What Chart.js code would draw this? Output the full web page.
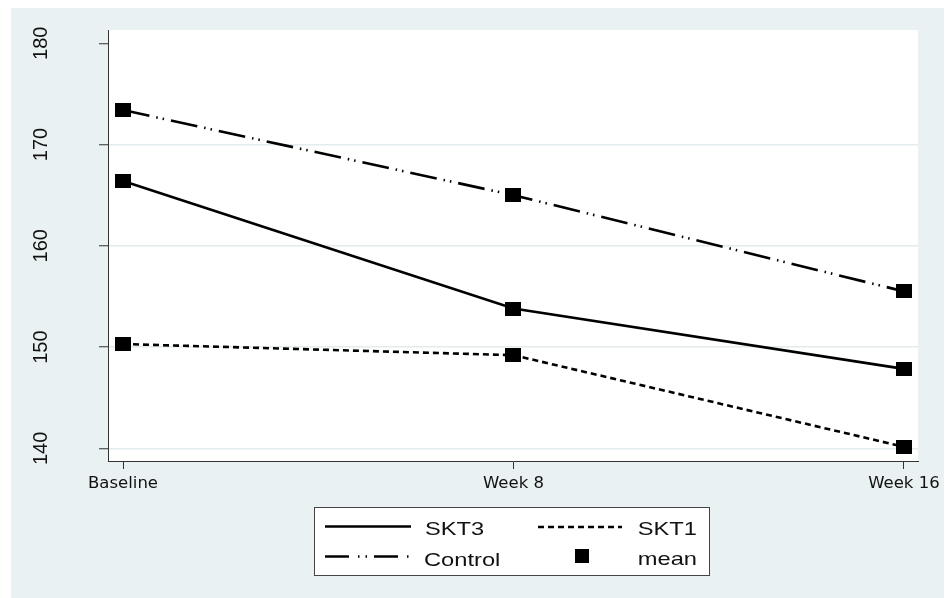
<!DOCTYPE html>
<html><head><meta charset="utf-8">
<script src="https://cdn.jsdelivr.net/npm/chart.js@4.4.1/dist/chart.umd.min.js"></script>
<style>html,body{margin:0;padding:0;background:#fff;}canvas{display:block}</style>
</head><body>
<canvas id="c" width="946" height="598"></canvas>
<script>
// ---- data ----
const categories = ['Baseline', 'Week 8', 'Week 16'];
const skt3 = [166.4, 153.8, 147.85];
const skt1 = [150.3, 149.2, 140.15];
const control = [173.4, 165.0, 155.5];
const yTicks = [140, 150, 160, 170, 180];
const seriesNames = ['SKT3', 'SKT1', 'Control'];
const markerName = 'mean';

// ---- styles ----
const marker = document.createElement('canvas');
marker.width = 16; marker.height = 14;
(function(){ const m = marker.getContext('2d'); m.fillStyle = '#000'; m.fillRect(0,0,16,14); })();

const dashes = { SKT3: [], SKT1: [6, 4], Control: [27, 7, 1.5, 5, 1.5, 7] };
const seriesValues = [skt3, skt1, control];

const datasets = seriesNames.map((name, k) => ({
  label: name,
  data: seriesValues[k].map((v, i) => ({ x: i, y: v })),
  borderColor: '#000',
  backgroundColor: '#000',
  borderWidth: 2.6,
  borderDash: dashes[name],
  tension: 0,
  fill: false,
  pointStyle: marker,
  pointRadius: 8,
  pointHoverRadius: 8
}));

const bgPlugin = {
  id: 'bg',
  beforeDraw(chart) {
    const ctx = chart.ctx, a = chart.chartArea;
    ctx.save();
    ctx.fillStyle = '#ffffff';
    ctx.fillRect(0, 0, chart.width, chart.height);
    ctx.fillStyle = '#e9f1f3';
    ctx.fillRect(11, 8, 933, chart.height - 8);
    ctx.fillStyle = '#ffffff';
    ctx.fillRect(a.left, a.top, a.right - a.left, a.bottom - a.top);
    ctx.restore();
  }
};

const legendPlugin = {
  id: 'stataLegend',
  afterDraw(chart) {
    const ctx = chart.ctx;
    const box = { x: 314, y: 507, w: 396, h: 69 };
    ctx.save();
    ctx.fillStyle = '#ffffff';
    ctx.fillRect(box.x, box.y, box.w, box.h);
    ctx.strokeStyle = '#444';
    ctx.lineWidth = 1;
    ctx.strokeRect(box.x + 0.5, box.y + 0.5, box.w - 1, box.h - 1);

    const slots = [
      { lx: 325, lx2: 411, ly: 526.5, tx: 425, ty: 535, align: 'left', dash: null },
      { lx: 538, lx2: 622, ly: 527, tx: 697, ty: 535, align: 'right', dash: null },
      { lx: 325, lx2: 410, ly: 556.5, tx: 424, ty: 566, align: 'left', dash: [24, 9, 1.5, 6, 1.5, 7] }
    ];
    const drawText = (txt, x, y, align) => {
      ctx.save();
      ctx.font = '18.5px "Liberation Sans", Arial, sans-serif';
      ctx.fillStyle = '#111';
      ctx.textBaseline = 'alphabetic';
      const w = ctx.measureText(txt).width * 1.28;
      ctx.translate(align === 'right' ? x - w : x, y);
      ctx.scale(1.28, 1);
      ctx.textAlign = 'left';
      ctx.fillText(txt, 0, 0);
      ctx.restore();
    };
    chart.data.datasets.forEach((ds, i) => {
      const s = slots[i];
      ctx.save();
      ctx.strokeStyle = ds.borderColor;
      ctx.lineWidth = ds.borderWidth;
      ctx.setLineDash(s.dash || ds.borderDash || []);
      ctx.beginPath();
      ctx.moveTo(s.lx, s.ly);
      ctx.lineTo(s.lx2, s.ly);
      ctx.stroke();
      ctx.restore();
      drawText(ds.label, s.tx, s.ty, s.align);
    });
    ctx.fillStyle = '#000';
    ctx.fillRect(575, 549, 14, 14);
    drawText(markerName, 697, 565, 'right');
    ctx.restore();
  }
};

new Chart(document.getElementById('c'), {
  type: 'line',
  data: { datasets },
  options: {
    responsive: false,
    animation: false,
    devicePixelRatio: 1,
    layout: { padding: { left: 0, top: 30, right: 28, bottom: 97 } },
    plugins: { legend: { display: false }, tooltip: { enabled: false } },
    scales: {
      x: {
        type: 'linear',
        min: -0.0385,
        max: 2.036,
        afterBuildTicks(scale) { scale.ticks = categories.map((c, i) => ({ value: i })); },
        afterFit(scale) { scale.height = 40; scale.paddingLeft = 0; scale.paddingRight = 0; },
        grid: { drawOnChartArea: false, drawTicks: true, tickLength: 8, tickColor: '#333', tickWidth: 1 },
        border: { display: true, color: '#333', width: 1 },
        ticks: {
          autoSkip: false, maxRotation: 0, minRotation: 0, padding: 5,
          color: '#111',
          font: { family: '"DejaVu Sans", sans-serif', size: 16.5 },
          callback: (v) => categories[v]
        }
      },
      y: {
        type: 'linear',
        min: 138.75,
        max: 181.31,
        afterBuildTicks(scale) { scale.ticks = yTicks.map(v => ({ value: v })); },
        afterFit(scale) { scale.width = 108; scale.paddingTop = 0; scale.paddingBottom = 0; },
        grid: {
          drawOnChartArea: true, drawTicks: true, tickLength: 9, tickColor: '#333', tickWidth: 1,
          lineWidth: 1.5,
          color: (c) => (c.tick && c.tick.value === 180) ? 'rgba(0,0,0,0)' : '#e3ebee'
        },
        border: { display: true, color: '#333', width: 1 },
        ticks: {
          minRotation: 90, maxRotation: 90, crossAlign: 'center', padding: 41,
          color: '#111',
          font: { family: '"Liberation Sans", Arial, sans-serif', size: 20 }
        }
      }
    }
  },
  plugins: [bgPlugin, legendPlugin]
});
</script>
</body></html>
